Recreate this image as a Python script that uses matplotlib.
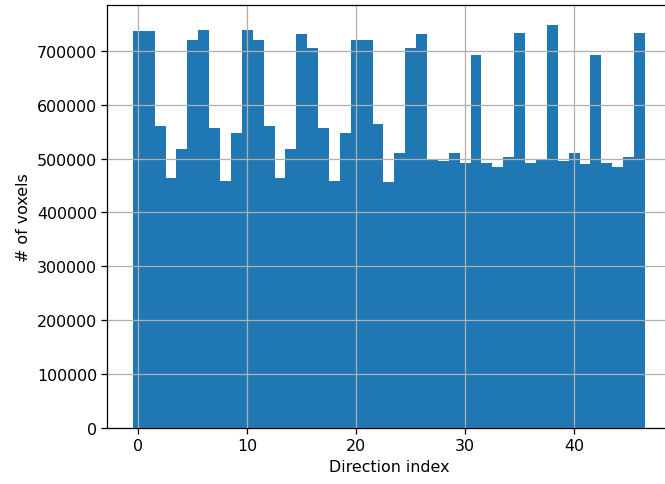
"""
Histogram of voxel counts per gradient direction index.
"""

import numpy as np
import matplotlib
matplotlib.use("Agg")
import matplotlib.pyplot as plt

# --- data ------------------------------------------------------------
direction_index = list(range(47))
voxel_counts = [
    736800, 736800, 560800, 463600, 517500,
    721000, 738600, 556500, 458600, 547800,
    738600, 721000, 560800, 463600, 517500,
    730500, 704500, 556500, 458600, 547800,
    721000, 721000, 564500, 456700, 509300,
    704500, 730500, 497600, 495100, 509300,
    491400, 691500, 491000, 484000, 503200,
    733100, 491000, 497000, 747200, 495100,
    510000, 488900, 691500, 491000, 484000,
    503200, 733100,
]
x_ticks = [0, 10, 20, 30, 40]

# original was rendered at ~114 dpi; scale sizes to match at 100 dpi
scale = 1.14
plt.rcParams.update({
    "font.size": 10 * scale,
    "axes.linewidth": 0.8 * scale,
    "grid.linewidth": 0.8 * scale,
    "xtick.major.size": 3.5 * scale,
    "ytick.major.size": 3.5 * scale,
    "xtick.major.width": 0.8 * scale,
    "ytick.major.width": 0.8 * scale,
})

fig = plt.figure(figsize=(6.65, 4.85), dpi=100)
# axes runs a little past the right edge of the (cropped) original
ax = fig.add_axes([107.3 / 665, 56.3 / 485, 563.2 / 665, 422.4 / 485])

ax.bar(direction_index, voxel_counts, width=1.0, color="#1f77b4")
ax.set_xticks(x_ticks)
ax.grid(True)
ax.spines["right"].set_visible(False)
ax.set_xlabel("Direction index")
ax.set_ylabel("# of voxels")

fig.savefig("out.png", dpi=100)
